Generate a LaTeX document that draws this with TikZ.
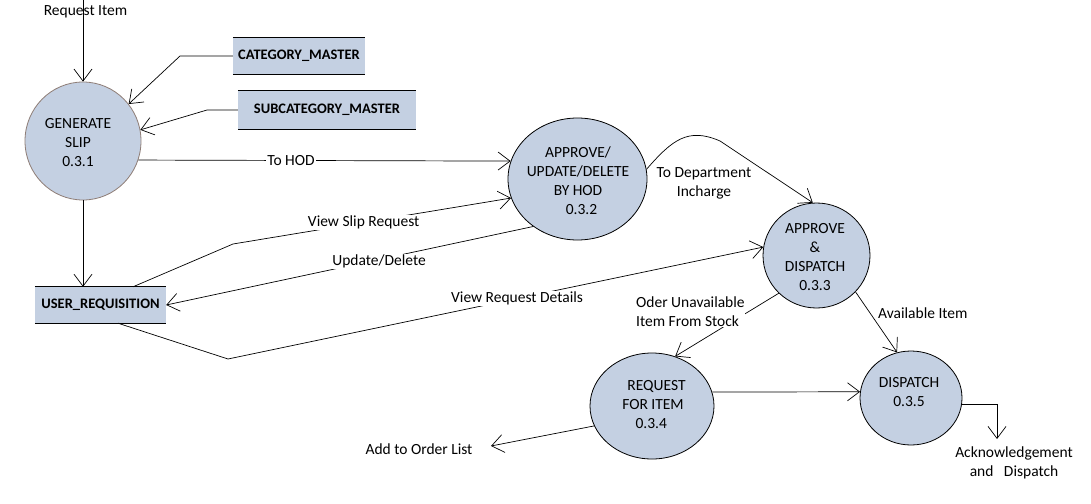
\documentclass[tikz,border=0pt]{standalone}
\usepackage{fontspec}
\setmainfont{Carlito}
\usetikzlibrary{arrows.meta,shapes.geometric}
\definecolor{procfill}{HTML}{C4D0E2}
\definecolor{cborder}{HTML}{8E7D76}
\begin{document}
\begin{tikzpicture}[x=1pt,y=-1pt,
  proc/.style={ellipse, draw=black, fill=procfill, line width=0.8pt, inner sep=0pt},
  ptext/.style={align=center, font=\fontsize{15.5}{19}\selectfont, inner sep=0pt},
  store/.style={fill=procfill, inner sep=0pt, font=\bfseries\fontsize{14.5}{17}\selectfont},
  storeline/.style={line width=0.8pt},
  flow/.style={line width=0.7pt, -{Straight Barb[length=12pt,width=18pt,line width=0.7pt]}},
  plain/.style={line width=0.7pt},
  lbl/.style={font=\fontsize{15.5}{19}\selectfont, inner sep=1pt},
  onlbl/.style={lbl, fill=white},
]
\useasboundingbox (0,0) rectangle (1091,503);
\fill[white] (0,0) rectangle (1091,503);

% processes
\node[proc, draw=cborder, minimum width=116pt, minimum height=118pt] (c1) at (83,141) {};
\node[ptext] (c1t) at (78,143) {GENERATE\\SLIP\\0.3.1};
\node[proc, minimum width=139pt, minimum height=122pt] (c2) at (577.5,179) {};
\node[ptext] (c2t) at (578,181) {APPROVE/\\UPDATE/DELETE\\BY HOD\\\ \ 0.3.2};
\node[proc, minimum width=107pt, minimum height=105pt] (c3) at (816.5,255.5) {};
\node[ptext] (c3t) at (815,257.5) {APPROVE\\\&\\DISPATCH\\0.3.3};
\node[proc, minimum width=124pt, minimum height=106pt] (c4) at (652,406) {};
\node[ptext] (c4t) at (653,404.5) {\ \ REQUEST\\FOR ITEM\\0.3.4\ \ };
\node[proc, minimum width=102pt, minimum height=94pt] (c5) at (911,398) {};
\node[ptext] (c5t) at (909,392.5) {DISPATCH\\0.3.5};

% data stores
\node[store, minimum width=132pt, minimum height=36pt] (cat) at (299,56) {CATEGORY\_MASTER};
\draw[storeline] (cat.north west) -- (cat.north east) (cat.south west) -- (cat.south east);
\node[store, minimum width=178pt, minimum height=38pt] (sub) at (327,110) {SUBCATEGORY\_MASTER};
\draw[storeline] (sub.north west) -- (sub.north east) (sub.south west) -- (sub.south east);
\node[store, minimum width=131pt, minimum height=36pt] (user) at (100.5,305) {USER\_REQUISITION\hspace{6pt}};
\draw[storeline] (user.north west) -- (user.north east) (user.south west) -- (user.south east);

% connectors
\coordinate (ri) at (83,0);
\draw[flow] (ri) -- (c1.north);
\node[lbl] (rilbl) at (85.5,12) {Request Item};

\coordinate (catb) at (180,56);
\draw[flow] (cat.west) -- (catb) -- (c1.39);
\coordinate (subb) at (207,110);
\draw[flow] (sub.west) -- (subb) -- (c1.11);

\draw[flow] (c1.-19) -- node[onlbl, pos=0.41] (hodl) {To HOD} (c2.165);

\draw[flow] (c1.south) -- (c1.south |- user.north);

\coordinate (vsb) at (233,244);
\draw[flow] ([xshift=32.5pt]user.north) -- (vsb) -- node[onlbl, pos=0.47] (vsl) {View Slip Request} (c2.196);

\draw[flow] (c2.227) -- node[onlbl, pos=0.42, yshift=-2pt] (udl) {Update/Delete} (user.east);

\coordinate (vrb) at (228,359);
\draw[flow] ([xshift=17.5pt]user.south) -- (vrb) -- node[onlbl, pos=0.54] (vrl) {View Request Details} (c3.171);

\coordinate (dpk) at (720,141);
\draw[flow] (c2.8) .. controls (672,140) and (688,127) .. (dpk) -- (c3.94);
\node[lbl, align=center] (dpl) at (704,183) {To Department\\Incharge};

\draw[flow] (c3.225) -- (c4.65);
\node[onlbl, align=left, anchor=west, inner sep=0pt] (oul) at (636,312) {Oder Unavailable\\Item From Stock};

\draw[flow] (c3.-43) -- (c5.107);
\node[lbl, anchor=west] (avl) at (877,313) {Available Item};

\draw[flow] (c4.13) -- (c5.173);

\coordinate (aol) at (491,446);
\draw[flow] (c4.199) -- (aol);
\node[lbl] (aoll) at (419,449) {Add to Order List};

\coordinate (ackt) at (997,439);
\draw[flow] (c5.-7) -| (ackt);
\node[lbl, align=center] (ackl) at (1014,463) {Acknowledgement\\and\ \ \ Dispatch};
\end{tikzpicture}
\end{document}
